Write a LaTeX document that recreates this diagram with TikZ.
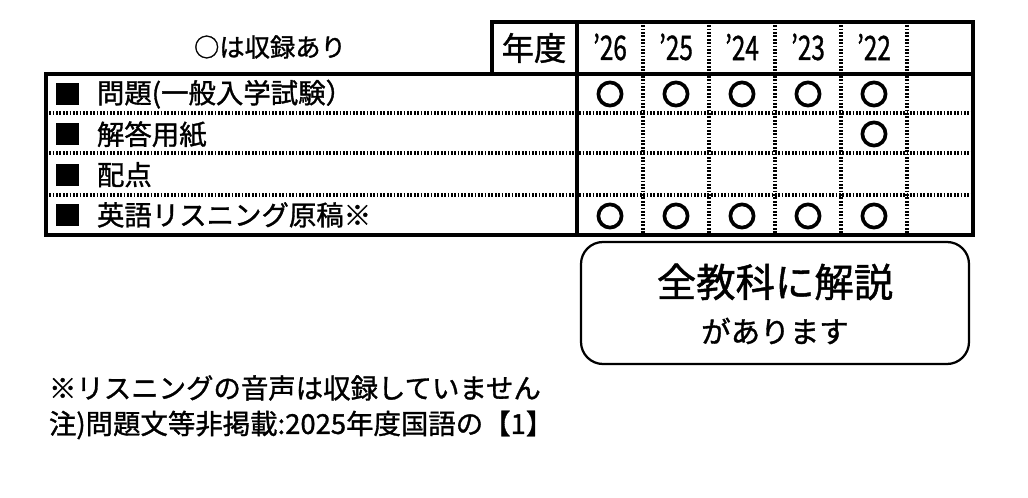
\documentclass[tikz,border=0pt]{standalone}
\usepackage{fontspec}
\setmainfont[FakeBold=1.2]{Noto Sans CJK JP}
\usetikzlibrary{positioning}

\begin{document}
\begin{tikzpicture}[x=0.025cm,y=-0.025cm,
  frame/.style={line width=2.6pt},
  grid/.style={line width=2.4pt,dash pattern=on 1.2pt off 1.2pt},
  maru/.style={circle,draw,line width=2.6pt,minimum size=0.58cm,inner sep=0pt},
  rowtext/.style={anchor=west,font=\fontsize{19.5}{19.5}\selectfont},
  year/.style={font=\fontsize{24}{24}\selectfont,xscale=0.72}]
						% Background and bounding box
						\useasboundingbox (0,0) rectangle (1028,498);
						\fill[white] (0,0) rectangle (1028,498);
						
						% Grid lines of the table
						\foreach \x in {643,709,775,841,907}
						\draw[grid] (\x,22) -- (\x,235);
						\foreach \y in {113,153,195}
						\draw[grid] (46,\y) -- (973,\y);
						
						% Frame of the table
						\draw[frame] (492,22) rectangle (973,74);
						\draw[frame] (577,22) -- (577,235);
						\draw[frame] (46,74) rectangle (973,235);
						
						% Header
						\node[font=\fontsize{18}{18}\selectfont] (note) at (270,47) {○は収録あり};
						\node[font=\fontsize{23}{23}\selectfont] (nendo) at (534,48) {年度};
						\foreach \lab [count=\i] in {'26,'25,'24,'23,'22}
						\node[year] (y\i) at ({577+66*(\i-0.5)},47) {\lab};
						
						% Row labels
						\foreach \lab [count=\r] in {問題(一般入学試験）,解答用紙,配点,英語リスニング原稿※}{
							\fill ({56},{74+40.25*(\r-0.5)-11}) rectangle ++(23,22);
							\node[rowtext] (row\r) at (92,{74+40.25*(\r-0.5)}) {\lab};
						}
						
						% Marks
						\foreach \c in {1,...,5}{
							\node[maru] (m1\c) at ({577+66*(\c-0.5)},94) {};
							\node[maru] (m4\c) at ({577+66*(\c-0.5)},216) {};
						}
						\node[maru] (m25) at (874,134) {};
						
						% Box below the table
						\draw[line width=1.6pt,rounded corners=0.55cm] (581,242) rectangle (969,364);
						\node[font=\fontsize{28}{28}\selectfont] (all) at (775,282) {全教科に解説};
						\node[font=\fontsize{21}{21}\selectfont] (ari) at (775,331) {があります};
						
						% Notes
						\node[rowtext] (note1) at (44,388) {※リスニングの音声は収録していません};
						\node[rowtext] (note2) at (44,425) {注)問題文等非掲載:2025年度国語の【1】};
					\end{tikzpicture}
\end{document}
